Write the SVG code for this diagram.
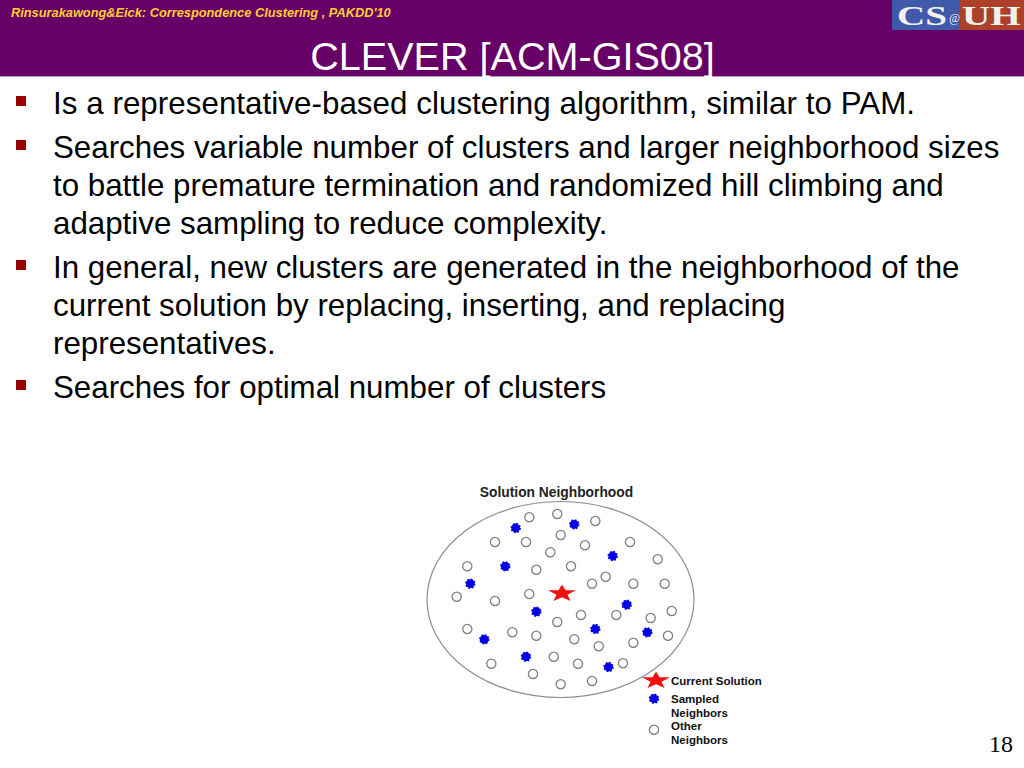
<svg xmlns="http://www.w3.org/2000/svg" width="1024" height="768" viewBox="0 0 1024 768">
<style>
text{font-family:"Liberation Sans",Arial,sans-serif}
.b{font-size:31.3px;fill:#000}
.l{font-size:11.500px;font-weight:bold;fill:#111}
.o{fill:#fff;stroke:#808080;stroke-width:1.300}
.s{fill:#0000e6;stroke:#0000e6;stroke-width:1.600;stroke-dasharray:1.750 1.700}
.bul{fill:#990000}
.logo{font-size:27px;font-weight:bold;fill:#f0f0f0;font-family:"Liberation Serif",serif}
</style>
<defs>
<circle id="op" class="o" r="4.600"/>
<circle id="sa" class="s" r="4.400"/>
<polygon id="star" fill="#f01010" points="0,-8.500 3.500,-2.700 14,-2.700 5.500,1.800 8.500,8 0,4.300 -8.500,8 -5.500,1.800 -14,-2.700 -3.500,-2.700"/>
</defs>
<rect width="1024" height="768" fill="#fff"/>
<g id="header">
<rect width="1024" height="76" fill="#660066"/>
<rect y="76" width="1024" height="1" fill="#b9a0b9"/>
<text x="11" y="17" font-size="12.800" font-weight="bold" font-style="italic" fill="#ffcc33">Rinsurakawong&amp;Eick: Correspondence Clustering , PAKDD'10</text>
<text x="512.500" y="70" font-size="39.600" fill="#fff" text-anchor="middle">CLEVER [ACM-GIS08]</text>
</g>
<g id="logo">
<rect x="892" y="0" width="67" height="30" fill="#4059a8"/>
<rect x="959" y="0" width="65" height="30" fill="#ac4028"/>
<text class="logo" transform="translate(897 25) scale(1.45 1)">CS</text>
<text class="logo" transform="translate(949 22) scale(1 1)" style="font-size:12px;font-weight:normal">@</text>
<text class="logo" transform="translate(962 25) scale(1.45 1)">UH</text>
</g>
<g id="bullets">
<rect class="bul" x="16" y="96" width="10" height="10"/>
<rect class="bul" x="16" y="140" width="10" height="10"/>
<rect class="bul" x="16" y="260" width="10" height="10"/>
<rect class="bul" x="16" y="380" width="10" height="10"/>
<text class="b" x="53" y="113.500" textLength="862">Is a representative-based clustering algorithm, similar to PAM.</text>
<text class="b" x="53" y="157.500">Searches variable number of clusters and larger neighborhood sizes</text>
<text class="b" x="53" y="195.500">to battle premature termination and randomized hill climbing and</text>
<text class="b" x="53" y="233.500">adaptive sampling to reduce complexity.</text>
<text class="b" x="53" y="277.500">In general, new clusters are generated in the neighborhood of the</text>
<text class="b" x="53" y="315.500">current solution by replacing, inserting, and replacing</text>
<text class="b" x="53" y="353.500">representatives.</text>
<text class="b" x="53" y="397.500">Searches for optimal number of clusters</text>
</g>
<g id="neighborhood">
<text x="556.500" y="497" font-size="13.800" font-weight="bold" fill="#222" text-anchor="middle">Solution Neighborhood</text>
<ellipse cx="560.500" cy="599.500" rx="133.500" ry="98" fill="none" stroke="#8c8c8c" stroke-width="1.200"/>
<g id="others">
<use href="#op" x="529.300" y="517.300"/><use href="#op" x="557.300" y="514"/><use href="#op" x="560.700" y="535"/><use href="#op" x="526" y="542"/><use href="#op" x="495" y="542"/><use href="#op" x="550.300" y="552.300"/><use href="#op" x="467.300" y="566.300"/><use href="#op" x="536.300" y="569.700"/><use href="#op" x="571" y="566.300"/><use href="#op" x="456.700" y="596.700"/><use href="#op" x="495" y="601"/><use href="#op" x="529.300" y="594"/>
<use href="#op" x="595.300" y="521"/><use href="#op" x="630" y="542"/><use href="#op" x="657.700" y="559.300"/><use href="#op" x="585" y="545.300"/><use href="#op" x="605.700" y="576.700"/><use href="#op" x="592" y="583.700"/><use href="#op" x="633.300" y="583.700"/><use href="#op" x="664.700" y="583.700"/><use href="#op" x="671.700" y="611"/><use href="#op" x="581" y="615"/><use href="#op" x="616.300" y="615"/><use href="#op" x="650.700" y="618"/>
<use href="#op" x="557.300" y="622"/><use href="#op" x="467.300" y="629"/><use href="#op" x="512.300" y="632.300"/><use href="#op" x="536.300" y="635.700"/><use href="#op" x="574.300" y="639.300"/><use href="#op" x="598.700" y="646.300"/><use href="#op" x="553.700" y="656.700"/><use href="#op" x="578" y="663.700"/><use href="#op" x="491.300" y="663.700"/><use href="#op" x="533" y="674"/><use href="#op" x="560.700" y="684.300"/><use href="#op" x="592" y="681"/>
<use href="#op" x="668" y="635.700"/><use href="#op" x="633.300" y="642.700"/><use href="#op" x="623" y="663.300"/>
</g>
<g id="sampled">
<use href="#sa" x="515.700" y="528"/><use href="#sa" x="505.300" y="566.300"/><use href="#sa" x="470.300" y="583.700"/><use href="#sa" x="574.300" y="524.300"/><use href="#sa" x="612.700" y="556"/><use href="#sa" x="626.700" y="604.700"/><use href="#sa" x="536.300" y="611.700"/><use href="#sa" x="595.300" y="629"/><use href="#sa" x="484.300" y="639.300"/><use href="#sa" x="526" y="656.700"/><use href="#sa" x="608.500" y="667"/><use href="#sa" x="647.300" y="632.300"/>
</g>
<use id="current" href="#star" x="562" y="593"/>
</g>
<g id="legend">
<use href="#star" x="656" y="680"/>
<use href="#sa" x="654" y="698.700"/>
<use href="#op" x="654" y="729.700"/>
<text class="l" x="671" y="685">Current Solution</text>
<text class="l" x="671" y="703">Sampled</text>
<text class="l" x="671" y="717">Neighbors</text>
<text class="l" x="671" y="730">Other</text>
<text class="l" x="671" y="744">Neighbors</text>
</g>
<text id="page" x="1013" y="752" font-size="24" text-anchor="end" fill="#000" style="font-family:'Liberation Serif',serif">18</text>
</svg>
